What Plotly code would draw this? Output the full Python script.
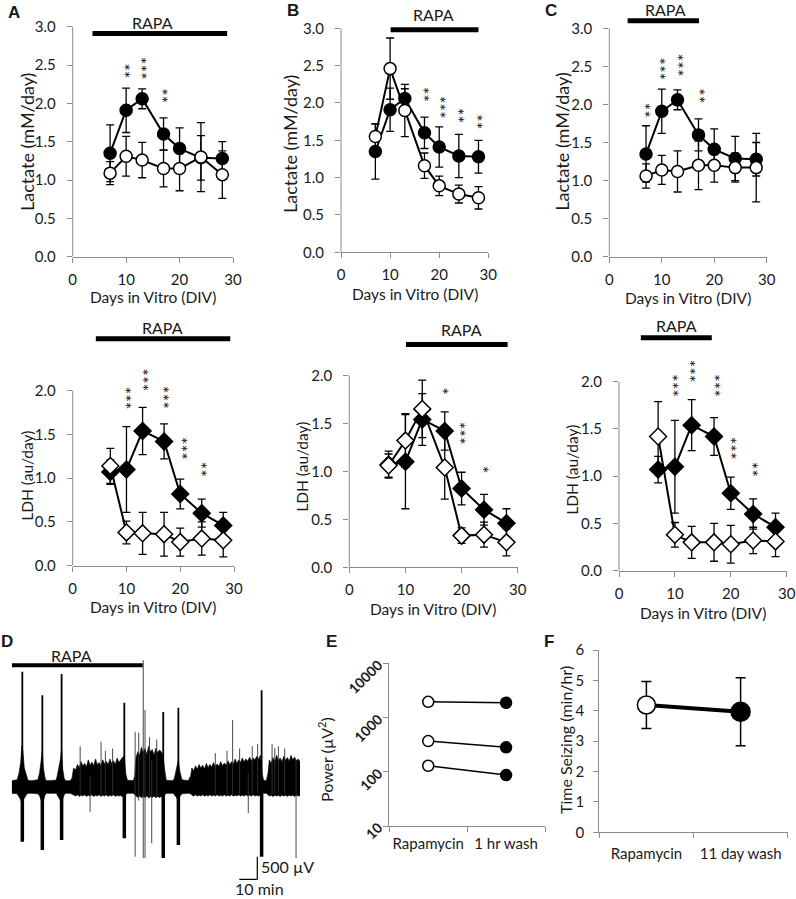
import plotly.graph_objects as go

W, H = 796, 899

# ---------------- data ----------------
days = [7, 10, 13, 17, 20, 24, 28]

# Lactate (mM/day): shared control (filled) and treated groups (open)
lac_ctrl = [1.35, 1.91, 2.06, 1.60, 1.41, 1.29, 1.28]
lac_ctrl_err = [0.37, 0.29, 0.13, 0.21, 0.27, 0.29, 0.22]
lac_A = [1.09, 1.31, 1.26, 1.15, 1.15, 1.30, 1.07]
lac_A_err = [0.15, 0.26, 0.23, 0.24, 0.29, 0.45, 0.31]
lac_B = [1.55, 2.46, 1.90, 1.16, 0.89, 0.78, 0.73]
lac_B_err = [0.17, 0.41, 0.35, 0.17, 0.13, 0.12, 0.15]
lac_C = [1.06, 1.14, 1.12, 1.20, 1.20, 1.17, 1.17]
lac_C_err = [0.16, 0.19, 0.27, 0.32, 0.22, 0.19, 0.45]

# LDH (au/day)
ldh_ctrl = [1.07, 1.10, 1.54, 1.42, 0.82, 0.60, 0.46]
ldh_ctrl_err = [0.14, 0.49, 0.27, 0.20, 0.17, 0.16, 0.15]
ldh_A = [1.14, 0.38, 0.37, 0.36, 0.27, 0.31, 0.29]
ldh_A_err = [0.20, 0.13, 0.24, 0.25, 0.16, 0.19, 0.19]
ldh_B = [1.06, 1.32, 1.65, 1.04, 0.33, 0.34, 0.26]
ldh_B_err = [0.12, 0.28, 0.30, 0.33, 0.08, 0.13, 0.14]
ldh_C = [1.42, 0.38, 0.30, 0.30, 0.28, 0.32, 0.31]
ldh_C_err = [0.37, 0.13, 0.17, 0.20, 0.20, 0.14, 0.16]

# RAPA treatment windows (DIV)
rapa_lac = {"A": (3.7, 28.9), "B": (10.1, 28.0), "C": (3.5, 17.1)}
rapa_ldh = {"A": (4.3, 29.3), "B": (10.1, 28.2), "C": (3.9, 16.6)}

# significance stars: (DIV, value, label)
stars_lac_A = [(10.0, 2.43, "**"), (13.2, 2.46, "***"), (17.2, 2.10, "**")]
stars_lac_B = [(17.3, 2.11, "**"), (20.5, 1.94, "***"), (24.4, 1.83, "**"), (28.2, 1.75, "**")]
stars_lac_C = [(7.2, 1.93, "**"), (10.1, 2.47, "***"), (13.5, 2.52, "***"), (17.5, 2.12, "**")]
stars_ldh_A = [(10.3, 1.92, "***"), (13.4, 2.12, "***"), (17.3, 1.92, "***"), (20.6, 1.34, "***"), (24.2, 1.10, "**")]
stars_ldh_B = [(17.1, 1.83, "*"), (20.1, 1.40, "***"), (24.1, 1.02, "*")]
stars_ldh_C = [(9.9, 1.96, "***"), (13.0, 2.11, "***"), (17.4, 1.96, "***"), (20.4, 1.30, "***"), (24.3, 1.07, "**")]

# Panel D: field recording (minutes, microvolts) - envelope of the background activity
env_t = [0, 3.0,
         4.0, 5.0, 5.6, 6.2, 7.0, 8.0, 9.0,
         11, 13,
         14.5, 15.5, 16.4, 17.0, 17.6, 18.5, 19.2,
         22, 24.5,
         25.0, 26.0, 27.0, 27.7, 28.3, 29.2, 30,
         32.5,
         33.5, 34.3, 35.5, 36.5, 37.5, 38.5, 39.5, 40.5, 41.5, 42.5, 43.5, 44.5, 45.5, 46.5, 47.5,
         48.5, 49.5, 50.5, 51.5, 52.5, 53.5, 54.5, 55.5, 56.5, 57.5, 58.5, 59.5, 60.5, 61.5, 62.5,
         63.3, 64.2,
         67.5,
         68.3, 69, 70, 71, 72, 73, 74, 75, 76, 77, 78, 79, 80, 81, 82, 83, 84, 85, 85.8,
         89.5,
         90.3, 91.3, 92.5, 93.3, 94.5,
         98,
         99.3, 100, 101, 102, 103, 104, 105, 106, 107, 108, 109, 110, 111, 112, 113, 114, 115, 116,
         117, 118, 119, 120, 121, 122, 123, 124, 125, 126, 127, 128, 129, 130, 131, 132, 133, 134,
         135, 136, 137, 138, 139, 139.8,
         141.3,
         142.2, 143, 144, 145, 146, 147, 148, 149, 150, 151, 152, 153, 154, 155, 156, 157, 158, 159, 160]
env_hi = [140, 160,
          300, 550, 900, 800, 420, 250, 150,
          140, 150,
          160, 320, 600, 800, 420, 200, 140,
          140, 150,
          200, 380, 600, 850, 400, 180, 140,
          140,
          200, 420, 380, 500, 430, 560, 470, 520, 450, 600, 480, 550, 470, 620, 500,
          540, 480, 600, 510, 570, 490, 620, 520, 580, 500, 640, 540, 600, 650, 700,
          300, 150,
          140,
          250, 650, 780, 700, 880, 760, 850, 720, 900, 780, 830, 700, 860, 750, 820, 780, 700, 350, 150,
          140,
          200, 380, 600, 350, 160,
          140,
          250, 420, 360, 470, 390, 500, 420, 480, 400, 520, 430, 500, 440, 540, 450, 510, 460, 560,
          470, 530, 480, 580, 500, 560, 510, 620, 520, 600, 540, 640, 560, 620, 570, 660, 580, 640,
          600, 680, 620, 700, 300, 150,
          140,
          300, 600, 520, 650, 560, 700, 580, 640, 560, 680, 590, 650, 570, 700, 600, 660, 580, 620, 560]
env_lo = [-140, -150,
          -200, -280, -350, -330, -250, -180, -140,
          -140, -140,
          -150, -200, -300, -380, -280, -180, -140,
          -140, -140,
          -160, -220, -300, -350, -260, -170, -140,
          -140,
          -150, -180, -200, -170, -210, -180, -200, -170, -210, -180, -200, -170, -210, -180, -200,
          -170, -210, -180, -200, -170, -210, -180, -200, -170, -210, -180, -200, -190, -220, -240,
          -170, -140,
          -140,
          -160, -200, -230, -200, -240, -210, -230, -200, -240, -210, -230, -200, -240, -210, -230, -210, -220, -180, -140,
          -140,
          -170, -220, -300, -210, -150,
          -140,
          -150, -180, -200, -170, -200, -180, -200, -170, -200, -180, -200, -170, -200, -180, -200, -170, -200, -180,
          -200, -170, -200, -180, -200, -170, -200, -180, -200, -170, -200, -180, -200, -170, -200, -180, -200, -170,
          -200, -180, -200, -190, -160, -140,
          -140,
          -160, -200, -180, -210, -180, -200, -180, -210, -180, -200, -180, -210, -180, -200, -180, -210, -180, -200, -190]
# seizure discharges (min, peak uV, trough uV)
sz_t = [5.9, 17.0, 27.7, 62.5, 84.1, 92.5, 138.7]
sz_top = [2550, 2030, 2500, 1860, 1660, 1750, 2140]
sz_bot = [-1210, -1390, -1170, -1130, -1570, -1280, -1540]
# isolated transients / fast activity (min, peak uV, trough uV)
tr_t = [38.0, 43.5, 49.6, 52.0, 56.0, 68.5, 70.5, 73.0, 74.0, 76.5, 77.7, 80.5,
        113.0, 119.5, 122.6, 126.5, 131.3, 133.5, 136.5, 144.5, 146.0, 148.0, 151.5, 157.8]
tr_top = [900, 250, 1000, 800, 850, 1220, 1200, 2800, 1700, 1100, 600, 1050,
          750, 800, 1480, 850, 300, 900, 950, 950, 860, 900, 850, 600]
tr_bot = [-200, -550, -200, -150, -150, -1540, -300, -1570, -1570, -250, -1240, -200,
          -150, -150, -200, -150, -575, -150, -150, -150, -200, -150, -150, -1570]
rapa_D = (0, 72.7)
scale_uv = 500
scale_min = 10

# Panel E: power (uV^2), three recordings
pow_cats = ["Rapamycin", "1 hr wash"]
pow_rapa = [1950, 368, 129]
pow_wash = [1870, 282, 87]

# Panel F: time seizing (min/hr)
sz_cats = ["Rapamycin", "11 day wash"]
seize_mean = [4.19, 3.97]
seize_err = [0.77, 1.12]

assert len(env_t) == len(env_hi) == len(env_lo)

# ---------------- styling ----------------
FONT = "Lato, Carlito, 'Open Sans', Arial, sans-serif"
AX = "#8c8c8c"
TXT = "#1a1a1a"
TICKFONT = dict(family=FONT, size=15, color=TXT)

fig = go.Figure()
annotations = []
shapes = []


def names(n):
    s = "" if n == 1 else str(n)
    return "x" + s, "y" + s, "xaxis" + s, "yaxis" + s


def ptext(px, py, text, size=16, angle=0, bold=False, family=FONT):
    annotations.append(dict(
        x=px / W, y=1 - py / H, xref="paper", yref="paper", text=text, showarrow=False,
        textangle=angle, xanchor="center", yanchor="middle",
        font=dict(family=family, size=size, color=TXT, weight="bold" if bold else "normal")))


def line_panel(n, left, right, zero_px, ppu, ytop, ymax, ctrl, ctrl_err, trt, trt_err,
               symbol, msize, rapa, bar_y, lbl_x, lbl_y, stars):
    xr, yr, xk, yk = names(n)
    top = zero_px - ytop * ppu
    yt = [round(0.5 * i, 1) for i in range(int(round(ymax / 0.5)) + 1)]
    fig.update_layout({
        xk: dict(domain=[left / W, right / W], range=[0, 30], anchor=yr,
                 tickvals=[0, 10, 20, 30], ticks="outside", ticklen=5, tickcolor=AX,
                 showline=True, linecolor=AX, linewidth=1, showgrid=False, zeroline=False,
                 tickfont=TICKFONT, ticklabelstandoff=4, automargin=False),
        yk: dict(domain=[1 - zero_px / H, 1 - top / H], range=[0, ytop], anchor=xr,
                 tickvals=yt, tickformat=".1f", ticks="outside", ticklen=5, tickcolor=AX,
                 showline=False, showgrid=False, zeroline=False, tickfont=TICKFONT,
                 ticklabelstandoff=8, automargin=False),
    })
    shapes.append(dict(type="line", xref=xr + " domain", yref=yr, x0=0, x1=0, y0=0, y1=ymax,
                       line=dict(color=AX, width=1)))
    fig.add_trace(go.Scatter(
        x=days, y=ctrl, mode="lines+markers", xaxis=xr, yaxis=yr,
        line=dict(color="black", width=2),
        marker=dict(symbol=symbol, size=msize, color="black", line=dict(color="black", width=1.5)),
        error_y=dict(type="data", array=ctrl_err, color="black", thickness=1.3, width=4),
        showlegend=False, hoverinfo="skip"))
    fig.add_trace(go.Scatter(
        x=days, y=trt, mode="lines+markers", xaxis=xr, yaxis=yr,
        line=dict(color="black", width=2),
        marker=dict(symbol=symbol, size=msize, color="white", line=dict(color="black", width=1.5)),
        error_y=dict(type="data", array=trt_err, color="black", thickness=1.3, width=4),
        showlegend=False, hoverinfo="skip"))
    shapes.append(dict(type="line", xref=xr, yref=yr, x0=rapa[0], x1=rapa[1], y0=bar_y, y1=bar_y,
                       line=dict(color="black", width=5)))
    annotations.append(dict(x=lbl_x, y=lbl_y, xref=xr, yref=yr, text="RAPA", showarrow=False,
                            font=dict(family=FONT, size=16, color=TXT)))
    for (d, v, s) in stars:
        annotations.append(dict(x=d, y=v, xref=xr, yref=yr, text=s, showarrow=False, textangle=89,
                                xshift=-3, font=dict(family=FONT, size=18, color="#222")))


# top row: lactate
line_panel(1, 72.7, 233.0, 256.7, 76.67, 3.3, 3.0, lac_ctrl, lac_ctrl_err, lac_A, lac_A_err,
           "circle", 12, rapa_lac["A"], 2.91, 15.0, 3.05, stars_lac_A)
line_panel(2, 341.0, 488.3, 252.3, 74.67, 3.3, 3.0, lac_ctrl, lac_ctrl_err, lac_B, lac_B_err,
           "circle", 12, rapa_lac["B"], 2.98, 18.8, 3.18, stars_lac_B)
line_panel(3, 609.3, 766.7, 256.7, 76.13, 3.35, 3.0, lac_ctrl, lac_ctrl_err, lac_C, lac_C_err,
           "circle", 12, rapa_lac["C"], 3.10, 10.7, 3.25, stars_lac_C)
# bottom row: LDH
line_panel(4, 72.7, 234.0, 565.7, 87.5, 2.85, 2.0, ldh_ctrl, ldh_ctrl_err, ldh_A, ldh_A_err,
           "diamond", 13, rapa_ldh["A"], 2.594, 16.7, 2.725, stars_ldh_A)
line_panel(5, 349.3, 517.7, 567.3, 96.0, 2.6, 2.0, ldh_ctrl, ldh_ctrl_err, ldh_B, ldh_B_err,
           "diamond", 13, rapa_ldh["B"], 2.32, 20.0, 2.48, stars_ldh_B)
line_panel(6, 619.0, 786.7, 570.7, 94.5, 2.7, 2.0, ldh_ctrl, ldh_ctrl_err, ldh_C, ldh_C_err,
           "diamond", 13, rapa_ldh["C"], 2.466, 10.2, 2.59, stars_ldh_C)

# axis titles
for (px, py) in [(27, 142), (290, 144), (561.7, 142)]:
    ptext(px, py, "Lactate (mM/day)", 18, -90)
for (px, py) in [(26.7, 476), (301.7, 467), (571.7, 470)]:
    ptext(px, py, "LDH (au/day)", 15.5, -90)
for (px, py) in [(153, 297), (415, 294), (688, 298), (153, 607), (433, 609), (703, 613)]:
    ptext(px, py, "Days in Vitro (DIV)", 15.5)

# ---------------- Panel D ----------------
fig.update_layout(
    xaxis7=dict(domain=[11.7 / W, 300 / W], range=[0, 160], anchor="y7", visible=False, automargin=False),
    yaxis7=dict(domain=[1 - 885 / H, 1 - 650 / H], range=[-2166, 3028], anchor="x7", visible=False,
                automargin=False),
)
fig.add_trace(go.Scatter(
    x=env_t + env_t[::-1], y=env_hi + env_lo[::-1], fill="toself", fillcolor="black",
    mode="lines", line=dict(color="black", width=0.6), xaxis="x7", yaxis="y7",
    showlegend=False, hoverinfo="skip"))
tx, ty = [], []
for t, a, b in zip(tr_t, tr_top, tr_bot):
    tx += [t, t, None]
    ty += [a, b, None]
fig.add_trace(go.Scatter(x=tx, y=ty, mode="lines", line=dict(color="#333", width=0.9),
                         xaxis="x7", yaxis="y7", showlegend=False, hoverinfo="skip"))
ux, uy, dx, dy = [], [], [], []
for t, a, b in zip(sz_t, sz_top, sz_bot):
    ux += [t, t, None]
    uy += [0, a, None]
    dx += [t, t, None]
    dy += [0, b, None]
fig.add_trace(go.Scatter(x=ux, y=uy, mode="lines", line=dict(color="black", width=1.8),
                         xaxis="x7", yaxis="y7", showlegend=False, hoverinfo="skip"))
fig.add_trace(go.Scatter(x=dx, y=dy, mode="lines", line=dict(color="black", width=3.5),
                         xaxis="x7", yaxis="y7", showlegend=False, hoverinfo="skip"))
shapes.append(dict(type="line", xref="x7", yref="y7", x0=rapa_D[0], x1=rapa_D[1], y0=2690, y1=2690,
                   line=dict(color="black", width=4)))
annotations.append(dict(x=(rapa_D[0] + rapa_D[1]) / 2 - 3, y=2917, xref="x7", yref="y7", text="RAPA",
                        showarrow=False, font=dict(family=FONT, size=16, color=TXT)))
sb_t, sb_v = 136.3, -2040
shapes.append(dict(type="line", xref="x7", yref="y7", x0=sb_t, x1=sb_t, y0=sb_v, y1=sb_v + scale_uv,
                   line=dict(color="black", width=1.2)))
shapes.append(dict(type="line", xref="x7", yref="y7", x0=sb_t - scale_min, x1=sb_t, y0=sb_v, y1=sb_v,
                   line=dict(color="black", width=1.2)))
annotations.append(dict(x=sb_t + 1, y=sb_v + scale_uv * 0.55, xref="x7", yref="y7", text="500 µV",
                        showarrow=False, xanchor="left", font=dict(family=FONT, size=16, color=TXT)))
annotations.append(dict(x=sb_t + 1, y=sb_v, xref="x7", yref="y7", text="10 min", showarrow=False,
                        xanchor="center", yanchor="top", yshift=2,
                        font=dict(family=FONT, size=16, color=TXT)))

# ---------------- Panel E ----------------
fig.update_layout(
    xaxis8=dict(domain=[389.3 / W, 545 / W], type="category", categoryarray=pow_cats,
                categoryorder="array", range=[-0.5, 1.5], anchor="y8", tickson="boundaries",
                ticks="outside", ticklen=5, tickcolor=AX, showline=True, linecolor=AX,
                showgrid=False, zeroline=False, tickfont=TICKFONT, ticklabelstandoff=4,
                tickangle=0, automargin=False),
    yaxis8=dict(domain=[1 - 826 / H, 1 - 663.3 / H], type="log", range=[1, 4], anchor="x8",
                tickvals=[10, 100, 1000, 10000], ticktext=["10", "100", "1000", "10000"],
                tickangle=-45, ticks="outside", ticklen=5, tickcolor=AX, showline=True,
                linecolor=AX, showgrid=False, zeroline=False,
                tickfont=dict(family=FONT, size=14, color=TXT, weight="bold"), ticklabelstandoff=2,
                automargin=False),
)
for a, b in zip(pow_rapa, pow_wash):
    fig.add_trace(go.Scatter(
        x=pow_cats, y=[a, b], mode="lines+markers", xaxis="x8", yaxis="y8",
        line=dict(color="black", width=1.5),
        marker=dict(size=11, color=["white", "black"], line=dict(color="black", width=1.5)),
        showlegend=False, hoverinfo="skip"))
ptext(325, 760, "Power (µV<sup>2</sup>)", 16, -90)

# ---------------- Panel F ----------------
fig.update_layout(
    xaxis9=dict(domain=[599.3 / W, 787.7 / W], type="category", categoryarray=sz_cats,
                categoryorder="array", range=[-0.5, 1.5], anchor="y9", tickson="boundaries",
                ticks="outside", ticklen=5, tickcolor=AX, showline=True, linecolor=AX,
                showgrid=False, zeroline=False, tickfont=TICKFONT, ticklabelstandoff=8,
                tickangle=0, automargin=False),
    yaxis9=dict(domain=[1 - 832.3 / H, 1 - 650 / H], range=[0, 6], anchor="x9", dtick=1,
                ticks="outside", ticklen=5, tickcolor=AX, showline=True, linecolor=AX,
                showgrid=False, zeroline=False, tickfont=TICKFONT, ticklabelstandoff=6,
                automargin=False),
)
fig.add_trace(go.Scatter(
    x=sz_cats, y=seize_mean, mode="lines", xaxis="x9", yaxis="y9",
    line=dict(color="black", width=4), showlegend=False, hoverinfo="skip"))
fig.add_trace(go.Scatter(
    x=sz_cats, y=seize_mean, mode="markers", xaxis="x9", yaxis="y9",
    marker=dict(size=[18, 19], color=["#ffffff", "#000000"], opacity=1,
                line=dict(color="black", width=1.5)),
    error_y=dict(type="data", array=seize_err, color="black", thickness=1.5, width=5),
    showlegend=False, hoverinfo="skip"))
ptext(565, 740, "Time Seizing (min/hr)", 16, -90)

# panel letters
for (px, py, L) in [(13.7, 12.5, "A"), (293, 11, "B"), (551, 10, "C"),
                    (7, 641, "D"), (331, 641, "E"), (549, 641.7, "F")]:
    ptext(px, py, L, 17, 0, True, "Liberation Sans, Arial, sans-serif")

fig.update_layout(
    width=W, height=H, margin=dict(l=0, r=0, t=0, b=0, autoexpand=False),
    paper_bgcolor="white", plot_bgcolor="rgba(0,0,0,0)",
    annotations=annotations, shapes=shapes, showlegend=False,
    font=dict(family=FONT, color=TXT),
)
fig.update_xaxes(automargin=False)
fig.update_yaxes(automargin=False)

fig.write_html("out.html", config=dict(displayModeBar=False),
               post_script="document.body.style.margin='0px';document.body.style.overflow='hidden';")
